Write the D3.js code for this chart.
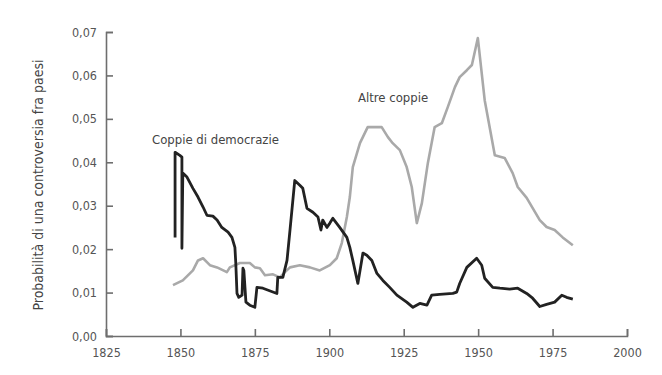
<!DOCTYPE html>
<html>
<head>
<meta charset="utf-8">
<script src="https://cdn.jsdelivr.net/npm/d3@7"></script>
<style>
  body { margin: 0; background: #fff; }
  text { font-family: "DejaVu Sans Condensed", "Liberation Sans Narrow", sans-serif; fill: #444; }
</style>
</head>
<body>
<script>
//Values
var democYears = [1848.2, 1848.2, 1849.8, 1850.5, 1850.5, 1850.8, 1852.2, 1854.2, 1855.9, 1857.6, 1858.9, 1860.9, 1862.3, 1863.9, 1866.0, 1867.3, 1868.3, 1868.6, 1869.0, 1869.6, 1870.7, 1871.0, 1871.3, 1872.0, 1873.3, 1875.0, 1875.7, 1877.7, 1882.4, 1882.7, 1884.4, 1885.8, 1886.8, 1888.4, 1890.1, 1891.1, 1892.5, 1894.5, 1896.2, 1897.2, 1897.8, 1899.2, 1900.2, 1901.2, 1903.5, 1905.9, 1906.9, 1907.9, 1909.6, 1911.3, 1912.6, 1914.3, 1916.0, 1918.0, 1920.3, 1922.7, 1926.0, 1928.1, 1930.4, 1932.8, 1934.4, 1937.1, 1941.5, 1942.8, 1943.8, 1946.2, 1949.5, 1951.2, 1952.2, 1954.9, 1957.3, 1960.6, 1963.3, 1966.3, 1968.3, 1970.7, 1973.0, 1975.7, 1978.1, 1979.7, 1981.8];
var democValues = [0.0227, 0.0423, 0.0416, 0.0412, 0.0202, 0.0375, 0.0366, 0.0340, 0.0320, 0.0297, 0.0278, 0.0276, 0.0267, 0.0250, 0.0239, 0.0227, 0.0204, 0.0167, 0.0098, 0.0089, 0.0094, 0.0156, 0.0151, 0.0078, 0.0071, 0.0066, 0.0112, 0.0110, 0.0098, 0.0135, 0.0135, 0.0174, 0.0244, 0.0358, 0.0347, 0.0340, 0.0294, 0.0285, 0.0274, 0.0244, 0.0267, 0.0250, 0.0260, 0.0271, 0.0250, 0.0227, 0.0204, 0.0174, 0.0121, 0.0191, 0.0186, 0.0174, 0.0144, 0.0128, 0.0112, 0.0094, 0.0078, 0.0066, 0.0075, 0.0071, 0.0094, 0.0096, 0.0098, 0.0101, 0.0121, 0.0158, 0.0179, 0.0163, 0.0133, 0.0112, 0.0110, 0.0108, 0.0110, 0.0098, 0.0087, 0.0068, 0.0073, 0.0078, 0.0094, 0.0089, 0.0085];

var otherYears = [1847.5, 1850.8, 1854.2, 1855.9, 1857.6, 1858.9, 1859.9, 1862.3, 1865.6, 1866.6, 1870.0, 1873.3, 1875.0, 1876.7, 1878.4, 1881.1, 1883.4, 1885.1, 1886.8, 1890.1, 1893.5, 1896.8, 1900.2, 1902.5, 1904.2, 1905.9, 1906.9, 1907.9, 1910.3, 1912.9, 1917.6, 1919.7, 1921.3, 1923.7, 1926.0, 1927.7, 1929.4, 1931.1, 1933.1, 1935.4, 1937.8, 1939.8, 1942.2, 1943.8, 1946.2, 1947.9, 1949.9, 1952.2, 1955.6, 1958.9, 1961.6, 1963.3, 1966.3, 1970.7, 1973.0, 1975.7, 1978.4, 1981.8];
var otherValues = [0.0117, 0.0128, 0.0151, 0.0174, 0.0179, 0.0170, 0.0163, 0.0158, 0.0147, 0.0158, 0.0168, 0.0168, 0.0158, 0.0156, 0.0140, 0.0142, 0.0135, 0.0147, 0.0158, 0.0163, 0.0158, 0.0151, 0.0163, 0.0179, 0.0214, 0.0274, 0.0320, 0.0389, 0.0444, 0.0481, 0.0481, 0.0458, 0.0444, 0.0428, 0.0389, 0.0343, 0.0260, 0.0306, 0.0398, 0.0481, 0.0490, 0.0527, 0.0573, 0.0596, 0.0612, 0.0624, 0.0686, 0.0543, 0.0416, 0.0410, 0.0375, 0.0343, 0.0318, 0.0267, 0.0251, 0.0244, 0.0227, 0.0209];

var xTicks = [1825, 1850, 1875, 1900, 1925, 1950, 1975, 2000];
var yTicks = [0, 0.01, 0.02, 0.03, 0.04, 0.05, 0.06, 0.07];

//Size of the page and margins round the plot
var width = 662,
    height = 375;
var margin = {top: 32, right: 35, bottom: 39, left: 106};

var svg = d3.select("body").append("svg")
    .attr("width", width)
    .attr("height", height);

var x = d3.scaleLinear()
    .domain([1825, 2000])
    .range([margin.left, width - margin.right]);

var y = d3.scaleLinear()
    .domain([0, 0.07])
    .range([height - margin.bottom, margin.top]);

//Italian number format, comma as decimal mark
var it = d3.formatLocale({decimal: ",", thousands: ".", grouping: [3], currency: ["", "€"]});

//Axes with ticks pointing inside
var xAxis = svg.append("g")
    .attr("transform", "translate(0," + y(0) + ")")
    .call(d3.axisBottom(x)
        .tickValues(xTicks)
        .tickSize(-7)
        .tickSizeOuter(-7)
        .tickPadding(12)
        .tickFormat(d3.format("d")));

var yAxis = svg.append("g")
    .attr("transform", "translate(" + x(1825) + ",0)")
    .call(d3.axisLeft(y)
        .tickValues(yTicks)
        .tickSize(-7)
        .tickSizeOuter(-7)
        .tickPadding(9)
        .tickFormat(it.format(".2f")));

[xAxis, yAxis].forEach(function(a) {
    a.selectAll("path, line").attr("stroke", "#6e6e6e").attr("stroke-width", 1.6);
    a.selectAll("text").attr("font-size", 12.5).style("fill", "#555");
});

//Y axis title
svg.append("text")
    .attr("transform", "translate(43,185) rotate(-90)")
    .attr("text-anchor", "middle")
    .attr("font-size", 14)
    .text("Probabilità di una controversia fra paesi");

var line = d3.line()
    .x(function(d) { return x(d[0]); })
    .y(function(d) { return y(d[1]); });

//Gray line first, black on top
svg.append("path")
    .datum(otherYears.map(function(yr, i) { return [yr, otherValues[i]]; }))
    .attr("fill", "none")
    .attr("stroke", "#a9a9a9")
    .attr("stroke-width", 2.6)
    .attr("stroke-linejoin", "round")
    .attr("d", line);

svg.append("path")
    .datum(democYears.map(function(yr, i) { return [yr, democValues[i]]; }))
    .attr("fill", "none")
    .attr("stroke", "#222")
    .attr("stroke-width", 2.8)
    .attr("stroke-linejoin", "round")
    .attr("d", line);

//Series labels
svg.append("text")
    .attr("x", 152)
    .attr("y", 144)
    .attr("font-size", 13)
    .text("Coppie di democrazie");

svg.append("text")
    .attr("x", 358)
    .attr("y", 102)
    .attr("font-size", 13)
    .text("Altre coppie");
</script>
</body>
</html>
